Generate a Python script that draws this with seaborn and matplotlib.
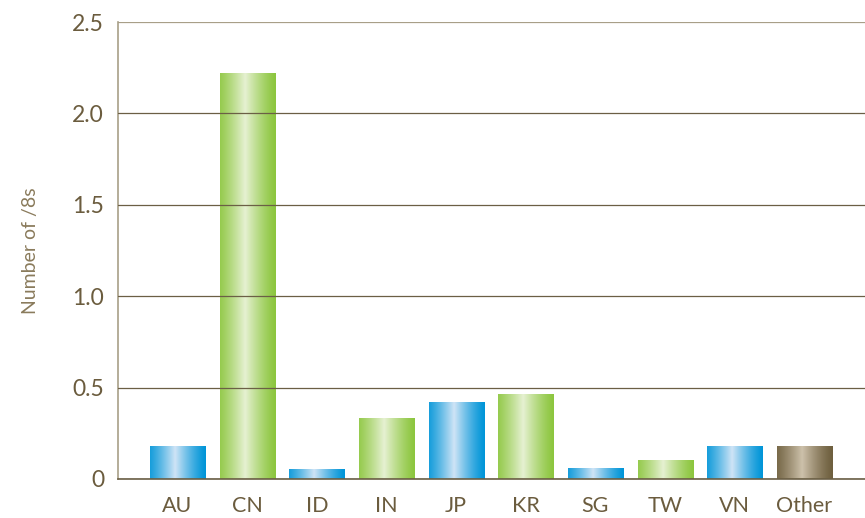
import numpy as np
import pandas as pd
import matplotlib
matplotlib.use("Agg")
import matplotlib.pyplot as plt
import seaborn as sns
from matplotlib.colors import LinearSegmentedColormap

regions = ["AU", "CN", "ID", "IN", "JP", "KR", "SG", "TW", "VN", "Other"]
counts = [0.18, 2.22, 0.05, 0.33, 0.42, 0.46, 0.06, 0.10, 0.18, 0.18]
groups = ["blue", "green", "blue", "green", "blue", "green", "blue", "green", "blue", "brown"]

# edge colour, centre highlight
shades = {
    "blue": ("#0095d8", "#cfe4f6"),
    "green": ("#8cc63e", "#e6f1d2"),
    "brown": ("#6e5f3e", "#cdc1ab"),
}
text_col = "#6b5c3e"

df = pd.DataFrame({"region": regions, "count": counts, "group": groups})

sns.set_style("white")
plt.rcParams["font.family"] = ["Lato", "DejaVu Sans"]

fig = plt.figure(figsize=(8.65, 5.18), dpi=100)
ax = fig.add_axes([0.1364, 0.0753, 0.8636, 0.8822])

palette = {g: shades[g][0] for g in shades}
sns.barplot(data=df, x="region", y="count", hue="group", palette=palette,
            dodge=False, width=0.79, legend=False, ax=ax, saturation=1)

# cylinder-like gradient on each bar
prof = np.linspace(0, 1, 256)
prof = np.clip(1 - np.abs(prof - 0.45) / 0.55, 0, 1) ** 1.3
for bar in ax.patches:
    h = bar.get_height()
    if h <= 0:
        continue
    fc = bar.get_facecolor()
    grp = min(shades, key=lambda g: np.sum((np.array(matplotlib.colors.to_rgb(shades[g][0])) - np.array(fc[:3])) ** 2))
    cmap = LinearSegmentedColormap.from_list(grp, list(shades[grp]))
    x0 = bar.get_x()
    w = bar.get_width()
    ax.imshow(prof[np.newaxis, :], cmap=cmap, vmin=0, vmax=1, aspect="auto",
              extent=(x0, x0 + w, 0, h), zorder=2, interpolation="bilinear")
    bar.set_visible(False)

ax.set_xlim(-0.854, 9.87)
ax.set_ylim(0, 2.5)
ax.set_yticks([0, 0.5, 1.0, 1.5, 2.0, 2.5])
ax.set_yticklabels(["0", "0.5", "1.0", "1.5", "2.0", "2.5"])

ax.set_axisbelow(False)
ax.yaxis.grid(True, color="#6b5f45", linewidth=0.9)
ax.xaxis.grid(False)
ax.get_ygridlines()[-1].set_color("#a89f88")

for s in ["top", "right"]:
    ax.spines[s].set_visible(False)
ax.spines["left"].set_color("#a89f88")
ax.spines["left"].set_linewidth(1.2)
ax.spines["bottom"].set_color("#6b5f45")
ax.spines["bottom"].set_linewidth(1.2)

ax.tick_params(axis="both", length=0, colors=text_col)
ax.tick_params(axis="y", labelsize=16.5, pad=10)
ax.tick_params(axis="x", labelsize=15.5, pad=12)

ax.set_xlabel("")
ax.set_ylabel("Number of /8s", fontsize=14, color="#8a7b5c")
ax.yaxis.set_label_coords(-0.106, 0.5)

fig.savefig("out.png", dpi=100)
